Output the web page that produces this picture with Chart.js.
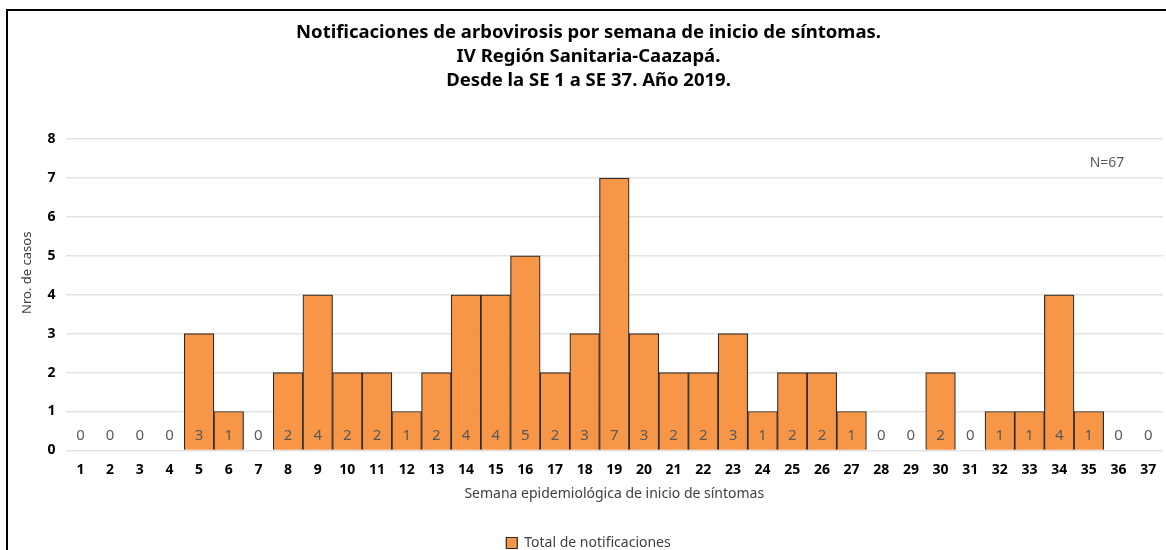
<!DOCTYPE html>
<html>
<head>
<meta charset="utf-8">
<script src="https://cdn.jsdelivr.net/npm/chart.js@4.4.0/dist/chart.umd.min.js"></script>
<style>
  html, body { margin: 0; padding: 0; background: #fff; }
  #wrap { position: relative; width: 1166px; height: 550px; overflow: hidden; }
  #frame { position: absolute; left: 6px; top: 9px; width: 1200px; height: 600px; border-left: 2px solid #000; border-top: 2px solid #000; pointer-events: none; }
  canvas { position: absolute; left: 0; top: 0; }
</style>
</head>
<body>
<div id="wrap">
  <canvas id="chart" width="1166" height="550"></canvas>
  <div id="frame"></div>
</div>
<script>
const weeks = ['1','2','3','4','5','6','7','8','9','10','11','12','13','14','15','16','17','18','19',
    '20','21','22','23','24','25','26','27','28','29','30','31','32','33','34','35','36','37'];
const notificaciones = [0,0,0,0,3,1,0,2,4,2,2,1,2,4,4,5,2,3,7,3,2,2,3,1,2,2,1,0,0,2,0,1,1,4,1,0,0];
const yTicks = [0,1,2,3,4,5,6,7,8];
const titleLines = [
    'Notificaciones de arbovirosis por semana de inicio de síntomas.',
    'IV Región Sanitaria-Caazapá.',
    'Desde la SE 1 a SE 37. Año 2019.'
];
const totalLabel = 'N=67';
const yTitle = 'Nro. de casos';

const FONT = "'Noto Sans', 'Open Sans', sans-serif";

// value labels at the base of every bar, the N annotation and the y title
const barLabels = {
    id: 'barLabels',
    afterDatasetsDraw(chart) {
        const ctx = chart.ctx;
        const y = chart.scales.y;
        const meta = chart.getDatasetMeta(0);
        ctx.save();
        ctx.font = '15px ' + FONT;
        ctx.fillStyle = '#595959';
        ctx.textAlign = 'center';
        ctx.textBaseline = 'middle';
        meta.data.forEach((bar, i) => {
            ctx.fillText(String(notificaciones[i]), bar.x, y.getPixelForValue(0) - 15);
        });
        ctx.font = '14px ' + FONT;
        ctx.fillText(totalLabel, chart.chartArea.right - 56, y.getPixelForValue(7.38));

        // y axis title, sits a bit above the plot centre like in the original
        ctx.font = '13px ' + FONT;
        ctx.fillStyle = '#404040';
        ctx.translate(y.left + 13, (y.top + y.bottom) / 2 - 22);
        ctx.rotate(-Math.PI / 2);
        ctx.fillText(yTitle, 0, 0);
        ctx.restore();
    }
};

new Chart(document.getElementById('chart').getContext('2d'), {
    type: 'bar',
    data: {
        labels: weeks,
        datasets: [{
            label: 'Total de notificaciones',
            data: notificaciones,
            backgroundColor: '#F79646',
            borderColor: '#2b2b2b',
            borderWidth: 1.2,
            categoryPercentage: 1,
            barPercentage: 1
        }]
    },
    options: {
        responsive: false,
        animation: false,
        layout: { padding: { left: 14, right: 3, top: 21, bottom: -10 } },
        plugins: {
            title: {
                display: true,
                text: titleLines,
                color: '#000',
                font: { family: FONT, size: 18.5, weight: 'bold', lineHeight: 1.3 },
                padding: { top: 0, bottom: 46 }
            },
            legend: {
                position: 'bottom',
                labels: {
                    color: '#404040',
                    font: { family: FONT, size: 14 },
                    boxWidth: 11, boxHeight: 11,
                    padding: 4
                }
            },
            tooltip: { enabled: false }
        },
        scales: {
            x: {
                grid: { display: false },
                border: { display: false },
                ticks: { color: '#000', font: { family: FONT, size: 14, weight: 'bold' }, maxRotation: 0, autoSkip: false },
                title: { display: true, text: 'Semana epidemiológica de inicio de síntomas', color: '#404040', font: { family: FONT, size: 14 }, padding: { top: 4, bottom: 30 } }
            },
            y: {
                min: 0, max: 8,
                afterBuildTicks: (s) => { s.ticks = yTicks.map(v => ({ value: v })); },
                grid: { color: '#e3e3e3', lineWidth: 1.5, drawTicks: false },
                border: { display: false },
                ticks: { color: '#000', font: { family: FONT, size: 14, weight: 'bold' }, padding: 10 },
                title: { display: true, text: yTitle, color: 'rgba(0,0,0,0)', font: { family: FONT, size: 13 }, padding: 4 }
            }
        }
    },
    plugins: [barLabels]
});
</script>
</body>
</html>
